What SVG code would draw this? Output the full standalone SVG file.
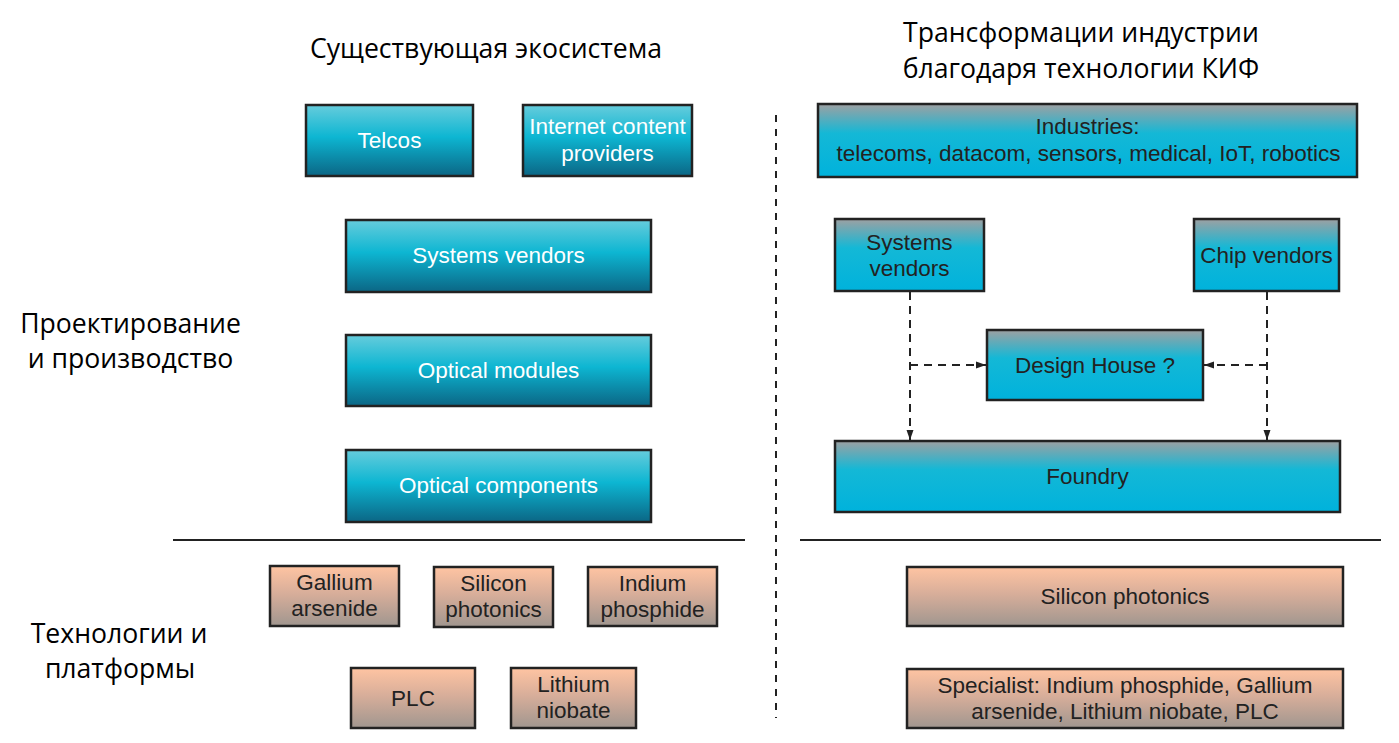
<svg xmlns="http://www.w3.org/2000/svg" width="1399" height="743" viewBox="0 0 1399 743">
<defs>
<linearGradient id="gL" x1="0" y1="0" x2="0" y2="1">
<stop offset="0" stop-color="#66ccdc"/>
<stop offset="0.45" stop-color="#0db6d2"/>
<stop offset="1" stop-color="#0b6685"/>
</linearGradient>
<linearGradient id="gR" x1="0" y1="0" x2="0" y2="1">
<stop offset="0" stop-color="#9ea0a2"/>
<stop offset="0.4" stop-color="#14b8d6"/>
<stop offset="1" stop-color="#00b2dc"/>
</linearGradient>
<linearGradient id="gO" x1="0" y1="0" x2="0" y2="1">
<stop offset="0" stop-color="#ffc4a2"/>
<stop offset="0.45" stop-color="#d8ae9a"/>
<stop offset="1" stop-color="#a0968f"/>
</linearGradient>
<marker id="ah" viewBox="0 0 10 10" refX="10" refY="5" markerWidth="10" markerHeight="10" markerUnits="userSpaceOnUse" orient="auto">
<path d="M0,1.5 L10,5 L0,8.5 Z" fill="#222"/>
</marker>
</defs>
<style>
.box{stroke:#222;stroke-width:2.5}
.bl{fill:url(#gL)}
.br{fill:url(#gR)}
.bo{fill:url(#gO)}
.tw{font-family:"Liberation Sans",Arial,sans-serif;font-size:22.5px;fill:#fff;text-anchor:middle}
.td{font-family:"Liberation Sans",Arial,sans-serif;font-size:22.5px;fill:#222;text-anchor:middle}
.h{font-family:"Open Sans","Noto Sans",sans-serif;font-size:26.6px;fill:#000}
.sep{stroke:#222;stroke-width:2}
.dash{stroke:#222;stroke-width:2;stroke-dasharray:8,6;fill:none}
</style>
<rect width="1399" height="743" fill="#fff"/>
<g id="titles">
<text class="h" x="486" y="58" text-anchor="middle">Существующая экосистема</text>
<text class="h" x="1081" y="42" text-anchor="middle">Трансформации индустрии</text>
<text class="h" x="1081" y="78" text-anchor="middle">благодаря технологии КИФ</text>
<text class="h" x="130.5" y="333" text-anchor="middle">Проектирование</text>
<text class="h" x="130.5" y="368" text-anchor="middle">и производство</text>
<text class="h" x="119" y="643" text-anchor="middle">Технологии и</text>
<text class="h" x="120" y="678" text-anchor="middle">платформы</text>
</g>
<g id="separators">
<line class="sep" x1="173" y1="540" x2="745" y2="540"/>
<line class="sep" x1="800" y1="540" x2="1381" y2="540"/>
<line class="sep" x1="776" y1="115" x2="776" y2="718" stroke-dasharray="7,7"/>
</g>
<g id="telcos"><rect class="box bl" x="306" y="105" width="167" height="71"/><text class="tw" x="389.5" y="148">Telcos</text></g>
<g id="icp"><rect class="box bl" x="523" y="105" width="169" height="71"/><text class="tw" x="607.5" y="134">Internet content</text><text class="tw" x="607.5" y="161">providers</text></g>
<g id="sysvendL"><rect class="box bl" x="346" y="220" width="305" height="72"/><text class="tw" x="498.5" y="263">Systems vendors</text></g>
<g id="optmod"><rect class="box bl" x="346" y="335" width="305" height="71"/><text class="tw" x="498.5" y="378">Optical modules</text></g>
<g id="optcomp"><rect class="box bl" x="346" y="450" width="305" height="72"/><text class="tw" x="498.5" y="493">Optical components</text></g>
<g id="gaas"><rect class="box bo" x="270" y="566" width="129" height="60"/><text class="td" x="334.5" y="590">Gallium</text><text class="td" x="334.5" y="616">arsenide</text></g>
<g id="siph"><rect class="box bo" x="434" y="567" width="119" height="60"/><text class="td" x="493.5" y="591">Silicon</text><text class="td" x="493.5" y="617">photonics</text></g>
<g id="inp"><rect class="box bo" x="588" y="567" width="129" height="59"/><text class="td" x="652.5" y="591">Indium</text><text class="td" x="652.5" y="617">phosphide</text></g>
<g id="plc"><rect class="box bo" x="351" y="668" width="124" height="60"/><text class="td" x="413" y="706">PLC</text></g>
<g id="linb"><rect class="box bo" x="511" y="668" width="125" height="60"/><text class="td" x="573.5" y="692">Lithium</text><text class="td" x="573.5" y="718">niobate</text></g>
<g id="industries"><rect class="box br" x="818" y="104" width="539" height="73"/><text class="td" x="1087.5" y="134">Industries:</text><text class="td" x="1088.5" y="161">telecoms, datacom, sensors, medical, IoT, robotics</text></g>
<g id="sysvendR"><rect class="box br" x="835" y="219" width="149" height="72"/><text class="td" x="909.5" y="250">Systems</text><text class="td" x="909.5" y="276">vendors</text></g>
<g id="chipvend"><rect class="box br" x="1194" y="219" width="145" height="72"/><text class="td" x="1266.5" y="263">Chip vendors</text></g>
<g id="designhouse"><rect class="box br" x="987" y="330" width="216" height="70"/><text class="td" x="1095" y="373">Design House ?</text></g>
<g id="foundry"><rect class="box br" x="835" y="441" width="505" height="71"/><text class="td" x="1087.5" y="484">Foundry</text></g>
<g id="siphR"><rect class="box bo" x="907" y="567" width="436" height="59"/><text class="td" x="1125" y="604">Silicon photonics</text></g>
<g id="specialist"><rect class="box bo" x="907" y="669" width="436" height="59"/><text class="td" x="1125" y="693">Specialist: Indium phosphide, Gallium</text><text class="td" x="1125" y="719">arsenide, Lithium niobate, PLC</text></g>
<g id="connectors">
<path class="dash" d="M910,292 V440" marker-end="url(#ah)"/>
<path class="dash" d="M910,365 H986" marker-end="url(#ah)"/>
<path class="dash" d="M1267,292 V440" marker-end="url(#ah)"/>
<path class="dash" d="M1267,365 H1204" marker-end="url(#ah)"/>
</g>
</svg>
